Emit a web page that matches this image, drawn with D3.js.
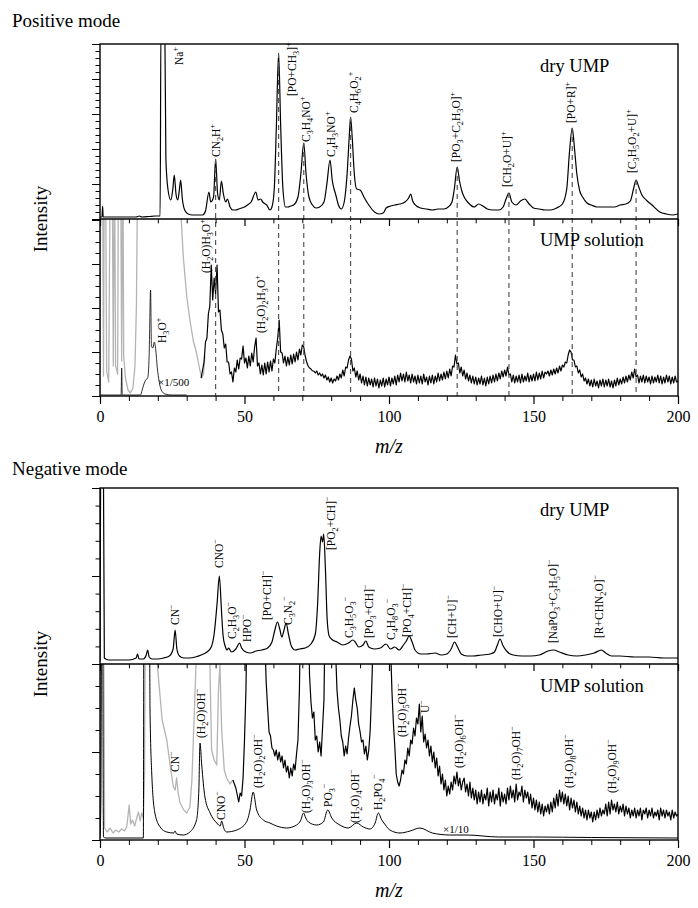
<!DOCTYPE html>
<html>
<head>
<meta charset="utf-8">
<script src="https://cdn.jsdelivr.net/npm/d3@7"></script>
<style>
  body { margin: 0; background: #fff; }
  svg text { font-family: "Liberation Serif", "Times New Roman", serif; fill: #000; }
</style>
</head>
<body>
<svg id="chart" width="698" height="908"></svg>
<script>
// ---- data (m/z, intensity in arbitrary units) ----
const xTicksMajor = [0, 50, 100, 150, 200];
const xTicksMinor = d3.range(0, 201, 10);

// positive mode, dry UMP
const posDry = [[0,2],[0.7,2],[0.9,13],[1.1,2],[5,2],[10,2],[12.5,2],[13.6,3],[14.5,2],[17,2.5],[19,3],[20.8,3],
  [21.1,200],[22.4,200],[22.8,60],[23.5,30],[24.5,19],[25.2,30],[25.7,44],[26.3,25],[26.9,19],[27.5,30],[27.9,39],
  [28.5,20],[29.3,9],[30.5,5],[32,4],[34,4],[35.5,4],[36.5,8],[37.7,27],[38.3,17],[39.3,22],[40.0,60],[40.7,25],
  [41.3,19],[42.0,38],[42.7,25],[43.5,17],[44.1,20],[45,12],[46,9],[47,9],[48,10],[49,11],[50,12],[51,14],[52.3,17],
  [53.9,27],[54.7,19],[55.6,20],[56.3,17],[57.2,15],[57.7,14],[58.8,9],[59.5,12],[60.3,30],[61.0,90],[61.8,166],
  [62.5,95],[63.3,30],[64.2,12],[65,12],[66,13],[67,14],[68.5,22],[69.5,45],[70.5,76],[71.3,45],[72.3,22],[73.5,14],
  [74.8,11],[76,12],[77.5,17],[78.5,35],[79.6,59],[80.4,38],[80.9,31],[81.5,25],[82.5,14],[83.5,10],[84.5,17],
  [85.5,45],[86.2,80],[86.7,102],[87.3,80],[88,45],[88.8,30],[90,29],[91.5,21],[93,14],[95,7],[96.5,5],[98,6],
  [99,11],[100.5,13],[102,14],[103.8,15],[105.5,17],[106.8,21],[107.5,25],[108.2,18],[109.5,13],[111,11],[113,10],
  [115,9],[117,10],[119,10],[120.5,12],[121.8,17],[122.6,30],[123.6,52],[124.4,38],[125.3,27],[126,22],[127.5,16],
  [129.5,12],[131,15],[132.5,13],[134,10],[136,9],[138,9],[139.5,12],[140.5,20],[141.5,26],[142.5,17],[144,14],
  [145.5,18],[147,20],[148.5,15],[150,11],[152,10],[154,9],[156,9],[158,11],[160,15],[161.5,30],[162.4,65],
  [163.4,91],[164.2,70],[165,45],[166,28],[167,22],[168.5,16],[170,14],[172,12],[175,12],[178,12],[180,14],[182,15],
  [183.5,18],[184.6,30],[185.5,39],[186.3,33],[187.5,24],[189,19],[191,14],[193.7,7],[196,5],[198,4],[200,5]];

// positive mode, UMP solution (sampled every 0.5 from m/z 35)
const posSolStart = 35;
const posSol = [
  18,26,34,54,58,82,90,131,96,118, 102,131,84,86,66,62,48,52,34,34,
  22,24,14,28,24,36,27,38,37,50, 33,38,28,40,30,43,34,49,58,30,
  33,22,31,21,33,22,34,24,35,25, 37,33,47,58,76,44,43,33,40,30,
  39,31,41,32,42,34,44,36,47,41, 51,49,40,34,30,28,27,25,25,23,
  25,21,23,20,22,18,21,16,19,14, 18,13,17,15,20,16,22,18,26,20,
  29,28,36,40,37,25,28,19,25,16, 22,13,20,11,19,10,18,11,17,9,
  18,10,17,8,16,10,18,9,17,11, 19,10,18,12,20,11,21,14,23,15,
  22,14,24,15,21,13,22,14,20,12, 21,13,20,12,22,14,19,11,20,13,
  21,12,20,14,23,15,22,16,24,17, 25,18,27,20,30,29,41,32,33,23,
  29,20,26,17,23,15,21,13,20,12, 19,11,18,12,20,11,18,10,19,12,
  20,13,21,14,22,15,23,17,25,19, 26,20,29,21,22,14,21,13,20,14,
  21,13,22,14,20,15,23,14,21,15, 22,15,24,16,23,17,25,18,24,22,
  25,20,26,21,27,22,28,23,30,25, 31,29,34,33,41,46,44,36,36,29,
  30,23,26,19,22,15,18,12,17,10, 16,9,17,10,15,8,16,10,17,9,
  16,10,17,9,15,8,16,10,18,11, 17,12,19,13,20,14,21,16,24,18,
  27,19,21,13,20,14,21,13,20,14, 19,12,20,13,19,14,21,13,20,12,
  19,13,21,14,20,12,19,13,20,14, 15];
const posSolGray = [[0,3],[0.3,250],[0.9,250],[1.2,20],[1.5,250],[1.9,250],[2.3,25],[3,14],[3.6,250],[4.2,250],
  [4.6,30],[5.0,250],[5.4,30],[6.1,22],[6.4,250],[7.1,250],[7.5,35],[7.9,250],[8.2,40],[8.8,18],[9.7,6],[10.5,3],
  [11.4,8],[12.1,30],[12.6,90],[13.1,250],[25.8,250],[27.5,210],[28.8,140],[30,100],[31.1,76],[32.3,55],[33.4,43],
  [34.4,28],[35.2,18],[35.8,22],[36.3,40]];
const posSol500 = [[0,1],[7,1],[7.3,1],[7.5,28],[7.7,1],[14,1],[14.6,6],[15.2,12],[15.8,16],[16.5,18],[17.0,40],
  [17.5,106],[17.8,50],[18.3,48],[18.8,54],[19.3,46],[19.8,29],[20.5,14],[21.2,6],[22.5,2],[25,1],[30,1]];
const posDashMz = [40.0, 61.8, 70.5, 86.7, 123.6, 141.5, 163.4, 185.5];

// negative mode, dry UMP
const negDry = [[0,3],[0.4,250],[1.1,250],[1.5,6],[3,4],[6,4],[10,4],[12.5,6],[13,10],[13.5,5],[15,5],[16,9],
  [16.5,14],[17,7],[18,5],[20,5],[22,6],[24,8],[25.3,15],[26,34],[26.6,15],[27.5,8],[29,6],[31,6],[33,7],[35,9],
  [37,12],[38.5,17],[39.5,30],[40.5,60],[41.3,88],[42,55],[42.6,28],[43.3,18],[44,14],[44.5,16],[45.5,12],[47,15],
  [48.3,21],[49,16],[50.5,12],[52,11],[54,13],[56,14],[58,16],[59.5,22],[60.5,34],[61.4,42],[62.2,35],[62.9,27],
  [63.6,33],[64.4,41],[65.2,30],[66.2,18],[67.5,14],[69,15],[71,16],[73,20],[74.5,30],[75.3,60],[76.0,110],
  [76.5,128],[77.0,122],[77.4,130],[78,95],[78.6,45],[79.3,28],[80.5,24],[82,22],[84,19],[86,21],[87.5,24],
  [88.3,22],[89.5,17],[91,19],[92,23],[93,17],[95,15],[97,16],[99,20],[100.5,15],[102,17],[103.5,14],[105,19],
  [106,23],[107,28],[108,22],[109,14],[111,10],[113,10],[116,11],[118,9],[120,10],[121.5,15],[122.7,22],[123.7,17],
  [125,10],[127,8],[129,8],[132,9],[135,10],[136.5,12],[137.5,19],[138.4,25],[139.5,18],[141,12],[143,9],[146,8],
  [149,8],[152,9],[155,13],[157,14],[159,12],[162,9],[165,8],[168,9],[171,11],[173.5,14],[175,11],[177,8],[180,8],
  [185,7],[190,7],[195,6],[200,6]];

// negative mode, UMP solution (sampled every 0.5 from m/z 46)
const negSolStart = 46;
const negSol = [
  60,56,52,45,38,47,44,62,100,150, 250,250,250,250,250,250,250,250,250,250,
  250,250,205,158,132,108,104,92,90,84, 90,80,88,78,84,72,80,68,74,62,
  72,64,76,70,86,100,150,250,250,250, 250,250,250,165,138,122,128,100,104,88,
  98,84,112,140,250,250,250,250,250,250, 250,190,150,132,120,104,98,84,94,86,
  102,114,124,140,152,140,132,116,108,98, 100,86,94,80,90,110,150,200,250,250,
  250,250,250,250,250,250,250,250,250,200, 150,118,94,66,58,54,60,70,66,80,
  76,92,84,100,96,112,104,122,116,136, 108,124,98,106,92,100,84,94,78,88,
  72,82,64,74,56,66,50,60,44,54, 46,58,50,64,56,68,54,62,50,58,
  62,48,56,44,58,42,52,40,50,36, 48,38,50,36,46,40,52,34,48,38,
  50,36,46,40,52,34,48,38,46,36, 52,40,54,42,50,38,56,40,48,44,
  54,38,50,42,48,36,46,32,42,30, 40,28,38,26,36,24,34,28,36,26,
  38,28,42,32,46,34,50,38,48,36, 46,34,44,30,42,32,40,28,38,26,
  34,24,32,22,30,20,30,22,28,18, 28,20,30,22,32,24,30,26,36,24,
  38,26,40,30,36,28,38,26,34,28, 36,24,34,26,32,22,30,24,32,22,
  30,24,32,20,30,26,32,22,30,24, 32,22,28,24,30,20,32,24,30,22,
  30,24,28,20,30,22,28,24,26];
const negSolGray = [[0,5],[0.3,250],[1.2,250],[1.6,12],[2.5,8],[3.5,12],[4.5,7],[5.5,10],[6.5,8],[7.5,11],[8.5,9],
  [9.3,14],[10.1,35],[10.6,16],[11.2,20],[12,14],[12.7,22],[13.3,28],[13.9,19],[14.4,27],[15,22],[15.4,60],
  [15.7,250],[19.3,250],[20,170],[21.5,120],[23.1,100],[24.5,70],[25.4,53],[26.0,50],[26.5,62],[27,48],[27.7,37],
  [29,30],[30,27],[31.1,33],[31.8,60],[32.3,100],[33.2,173],[33.5,250],[37.3,250],[38,180],[38.6,90],[39.5,80],
  [40.4,75],[41,150],[41.5,175],[42.1,110],[43,70],[43.8,62],[45,56],[46,60]];
const negSol10 = [[0,2],[0.3,40],[0.6,250],[0.9,250],[1.2,3],[2,2],[15,2],[15.2,250],[17.1,250],[17.3,133],
  [17.9,67],[19,27],[20.8,13],[23.1,8],[25.5,7],[26,9],[26.5,6],[28.8,5],[31.1,8],[33.4,20],[34.2,50],[34.6,97],
  [35.2,75],[36.3,43],[38.1,27],[40.4,17],[41.6,14],[42.1,19],[42.8,12],[43.8,8],[47.3,10],[50.7,18],[51.9,30],
  [53,48],[54.2,30],[56.5,20],[58.8,17],[61.1,14],[64.6,12],[68,15],[69.5,20],[70.4,27],[71.2,22],[72.1,18],[75,15],
  [77.3,18],[78.8,30],[80.2,22],[83,15],[85.9,12],[88.8,17],[91.1,13],[93.4,11],[95.2,17],[96.3,27],[97.5,20],
  [98,18],[100.3,10],[103.8,7],[107.3,9],[110.7,12],[115,7],[121,5],[127,5],[138,3],[150,3],[170,2.5],[200,2]];

// peak labels: [text, m/z, intensity at label start]
const posDryLabels = [["Na^+",28.7,154],["CN_2H^+",41.5,62],["[PO+CH_3]^+",67.8,123],["C_3H_4NO^+",72.7,77],
  ["C_4H_3NO^+",81.3,62],["C_4H_6O_2^+",89.3,106],["[PO_3+C_2H_3O]^+",124.6,57],["[CH_2O+U]^+",142.2,32],
  ["[PO+R]^+",164.4,96],["[C_3H_5O_2+U]^+",185.5,46]];
const posSolLabels = [["(H_2O)H_3O^+",38.1,123],["(H_2O)_2H_3O^+",57.1,63],["H_3O^+",22.8,53]];
const negDryLabels = [["CN^−",27.3,39],["CNO^−",42.6,96],["C_2H_3O^−",47.1,25],["HPO^−",52.2,22],
  ["[PO+CH]^−",59.2,44],["C_3N_2^−",66.4,39],["[PO_2+CH]^−",81.3,114],["C_3H_5O_3^−",87.5,26],
  ["[PO_3+CH]^−",94.5,26],["C_4H_8O_3^−",102.1,24],["[PO_4+CH]^−",107.6,27],["[CH+U]^−",123.2,26],
  ["[CHO+U]^−",139.1,27],["[NaPO_3+C_3H_5O]^−",158.1,21],["[R+CHN_2O]^−",174,26]];
const negSolLabels = [["CN^−",27.3,68],["(H_2O)OH^−",36.3,102],["CNO^−",43.3,20],["(H_2O)_2OH^−",56.1,52],
  ["(H_2O)_3OH^−",72.7,27],["PO_3^−",80.3,33],["(H_2O)_4OH^−",89.6,17],["H_2PO_4^−",97.6,30],
  ["(H_2O)_5OH^−",105.9,103],["U^−",113.8,127],["(H_2O)_6OH^−",125.6,72],["(H_2O)_7OH^−",145.3,60],
  ["(H_2O)_8OH^−",163.7,52],["(H_2O)_9OH^−",178.5,47]];

// ---- drawing ----
const svg = d3.select("#chart");
const x = d3.scaleLinear().domain([0, 200]).range([100, 678]);
const sampled = (start, vals) => vals.map((v, i) => [start + i * 0.5, v]);

let clipId = 0;
function makePanel(top, bottom, ymax) {
  const y = d3.scaleLinear().domain([0, ymax]).range([bottom, top]);
  const id = "clip" + (clipId++);
  svg.append("clipPath").attr("id", id).append("rect")
    .attr("x", x(0)).attr("y", top).attr("width", x(200) - x(0)).attr("height", bottom - top);
  const g = svg.append("g").attr("clip-path", `url(#${id})`);
  return { y, g, top, bottom };
}

function trace(p, data, color, w, curve) {
  p.g.append("path").datum(data)
    .attr("fill", "none").attr("stroke", color).attr("stroke-width", w)
    .attr("stroke-linejoin", "round")
    .attr("d", d3.line().x(d => x(d[0])).y(d => p.y(d[1])).curve(curve || d3.curveLinear));
}

function richText(t, str, fs) {
  const re = /([_^])(\{[^}]*\}|.)|([^_^]+)/g;
  let m, shift = 0;
  while ((m = re.exec(str))) {
    if (m[3]) {
      t.append("tspan").attr("dy", -shift).text(m[3]);
      shift = 0;
    } else {
      const s = m[1] === "_" ? 0.28 * fs : -0.42 * fs;
      t.append("tspan").attr("dy", s - shift).attr("font-size", fs * 0.72).text(m[2].replace(/[{}]/g, ""));
      shift = s;
    }
  }
}

function peakLabels(p, labels) {
  labels.forEach(([txt, mz, h]) => {
    const t = svg.append("text").attr("font-size", 11.5)
      .attr("transform", `translate(${x(mz)},${p.y(h)}) rotate(-90)`);
    richText(t, txt, 11.5);
  });
}

function yAxis(p, step, every) {
  const vals = d3.range(0, p.y.domain()[1] + 0.01, step);
  const major = vals.filter((v, i) => i % every === 0);
  const minor = vals.filter((v, i) => i % every !== 0);
  [[major, 8], [minor, 4.5]].forEach(([tv, size]) => {
    svg.append("g").attr("transform", `translate(${x(0)},0)`)
      .call(d3.axisLeft(p.y).tickValues(tv).tickSize(size).tickFormat(""))
      .call(g => g.select(".domain").remove())
      .call(g => g.selectAll("line").attr("stroke-width", 1));
  });
}

function xAxis(yPos, size, labels) {
  const maj = svg.append("g").attr("transform", `translate(0,${yPos})`)
    .attr("font-family", "Liberation Serif")
    .call(d3.axisBottom(x).tickValues(xTicksMajor).tickSize(size).tickPadding(7)
      .tickFormat(labels ? d3.format("d") : ""));
  maj.select(".domain").remove();
  maj.selectAll("line").attr("stroke-width", 1.2);
  maj.selectAll("text").attr("font-size", 16).attr("font-family", "Liberation Serif");
  const mn = svg.append("g").attr("transform", `translate(0,${yPos})`)
    .call(d3.axisBottom(x).tickValues(xTicksMinor.filter(v => v % 50)).tickSize(size * 0.62).tickFormat(""));
  mn.select(".domain").remove();
  mn.selectAll("line").attr("stroke-width", 1);
}

function frame(top, mid, bottom) {
  const f = svg.append("g").attr("fill", "none").attr("stroke", "#000").attr("stroke-width", 1.4);
  f.append("rect").attr("x", x(0)).attr("y", top).attr("width", x(200) - x(0)).attr("height", bottom - top);
  f.append("line").attr("x1", x(0)).attr("x2", x(200)).attr("y1", mid).attr("y2", mid);
}

function modeTitles(title, tY, mid, bottom) {
  svg.append("text").attr("x", 12).attr("y", tY).attr("font-size", 19).text(title);
  svg.append("text").attr("font-size", 19).attr("text-anchor", "middle")
    .attr("transform", `translate(47,${mid}) rotate(-90)`).text("Intensity");
  svg.append("text").attr("x", x(100)).attr("y", bottom + 57).attr("font-size", 20)
    .attr("font-style", "italic").attr("text-anchor", "middle").text("m/z");
}

// ---------- positive mode ----------
const pTop = makePanel(44, 219, 175);
const pBot = makePanel(219, 396, 177);

// dashed guides through both panels
posDashMz.forEach(mz => {
  const h = d3.max(posDry.filter(d => Math.abs(d[0] - mz) < 1), d => d[1]);
  svg.append("line").attr("x1", x(mz)).attr("x2", x(mz))
    .attr("y1", pTop.y(h)).attr("y2", pBot.bottom)
    .attr("stroke", "#555").attr("stroke-width", 1.2).attr("stroke-dasharray", "5,4");
});

trace(pTop, posDry, "#000", 1.2, d3.curveMonotoneX);
trace(pBot, posSolGray, "#b4b4b4", 1.3);
trace(pBot, posSol500, "#000", 0.8, d3.curveMonotoneX);
trace(pBot, sampled(posSolStart, posSol), "#000", 1.2);

peakLabels(pTop, posDryLabels);
peakLabels(pBot, posSolLabels);
svg.append("text").attr("x", x(20.1)).attr("y", pBot.y(10)).attr("font-size", 11).text("×1/500");
svg.append("text").attr("x", 540).attr("y", 72).attr("font-size", 18.5).text("dry UMP");
svg.append("text").attr("x", 540).attr("y", 246).attr("font-size", 18.5).text("UMP solution");

yAxis(pTop, 7, 5);
yAxis(pBot, 11, 4);
xAxis(219, 7, false);
xAxis(396, 8, true);
frame(44, 219, 396);
modeTitles("Positive mode", 27, 219, 396);

// ---------- negative mode ----------
const nTop = makePanel(488, 664, 176);
const nBot = makePanel(664, 840, 176);

trace(nTop, negDry, "#000", 1.2, d3.curveMonotoneX);
trace(nBot, negSolGray, "#b4b4b4", 1.3);
trace(nBot, negSol10, "#000", 1, d3.curveMonotoneX);
trace(nBot, sampled(negSolStart, negSol), "#000", 1.2);

peakLabels(nTop, negDryLabels);
peakLabels(nBot, negSolLabels);
svg.append("text").attr("x", x(118.7)).attr("y", nBot.y(7)).attr("font-size", 11).text("×1/10");
svg.append("text").attr("x", 540).attr("y", 516).attr("font-size", 18.5).text("dry UMP");
svg.append("text").attr("x", 540).attr("y", 692).attr("font-size", 18.5).text("UMP solution");

yAxis(nTop, 17.6, 5);
yAxis(nBot, 22, 4);
xAxis(664, 7, false);
xAxis(840, 8, true);
frame(488, 664, 840);
modeTitles("Negative mode", 475, 664, 840);
</script>
</body>
</html>
